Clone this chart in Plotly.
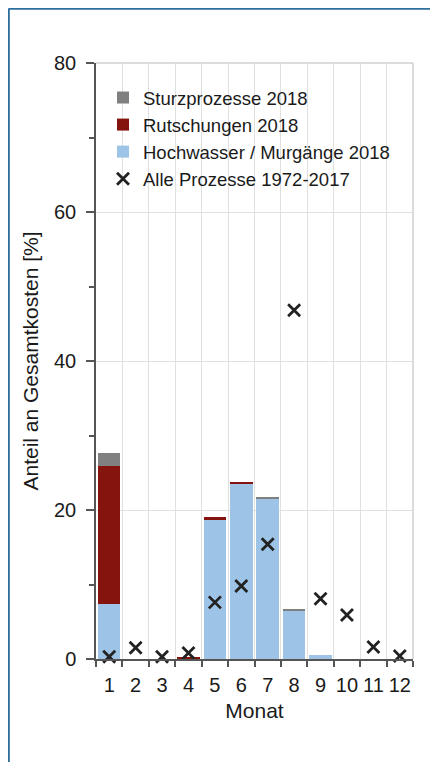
import plotly.graph_objects as go

months = [1, 2, 3, 4, 5, 6, 7, 8, 9, 10, 11, 12]
month_labels = ["1", "2", "3", "4", "5", "6", "7", "8", "9", "10", "11", "12"]
hochwasser_2018 = [7.4, 0, 0, 0, 18.75, 23.5, 21.6, 6.5, 0.55, 0, 0, 0]
rutschungen_2018 = [18.5, 0, 0, 0.3, 0.25, 0.2, 0, 0, 0, 0, 0, 0]
sturz_2018 = [1.75, 0, 0, 0, 0, 0, 0.1, 0.15, 0, 0, 0, 0]
alle_1972_2017 = [0.3, 1.5, 0.3, 0.8, 7.6, 9.8, 15.4, 46.8, 8.1, 5.9, 1.6, 0.4]

FONT = "Liberation Sans, Arial, sans-serif"
OFF = 8  # default page body margin
W, H = 438 - OFF, 762 - OFF
L, R, T, B = 96 - OFF, 25, 63 - OFF, 103
pw, ph = W - L - R, H - T - B

fig = go.Figure()
fig.add_trace(go.Bar(x=months, y=hochwasser_2018, name="Hochwasser / Murgänge 2018",
                     marker=dict(color="#9dc3e6", line=dict(width=0)), width=0.85,
                     legendrank=3, legendgroup="c"))
fig.add_trace(go.Bar(x=months, y=rutschungen_2018, name="Rutschungen 2018",
                     marker=dict(color="#85140f", line=dict(width=0)), width=0.85,
                     legendrank=2, legendgroup="b"))
fig.add_trace(go.Bar(x=months, y=sturz_2018, name="Sturzprozesse 2018",
                     marker=dict(color="#808080", line=dict(width=0)), width=0.85,
                     legendrank=1, legendgroup="a"))
fig.add_trace(go.Scatter(x=months, y=alle_1972_2017, mode="markers", name="Alle Prozesse 1972-2017",
                         marker=dict(symbol="x-thin", size=12, color="#222222",
                                     line=dict(width=2.8, color="#222222")),
                         legendrank=4, legendgroup="d", cliponaxis=False))

def px_x(p):
    # p in page pixels
    return (p - OFF - L) / pw

def px_y(p):
    return (H - B - (p - OFF)) / ph

shapes = [
    dict(type="line", xref="paper", yref="paper", x0=px_x(8.6), x1=px_x(W + 20), y0=px_y(8.6), y1=px_y(8.6),
         line=dict(color="#2c6e9c", width=2.4)),
    dict(type="line", xref="paper", yref="paper", x0=px_x(8.6), x1=px_x(8.6), y0=px_y(8.6), y1=px_y(H + 20),
         line=dict(color="#2c6e9c", width=2.4)),
    dict(type="line", xref="paper", yref="paper", x0=0, x1=1, y0=1, y1=1,
         line=dict(color="#d0d0d0", width=1.5), layer="below"),
    dict(type="line", xref="paper", yref="paper", x0=1, x1=1, y0=0, y1=1,
         line=dict(color="#d0d0d0", width=1.5), layer="below"),
]

fig.update_layout(
    width=W, height=H,
    margin=dict(l=L, r=R, t=T, b=B),
    paper_bgcolor="white", plot_bgcolor="white",
    barmode="stack",
    font=dict(family=FONT, size=18, color="#1a1a1a"),
    showlegend=True,
    legend=dict(x=px_x(103), y=px_y(79), xanchor="left", yanchor="top",
                bgcolor="rgba(0,0,0,0)", font=dict(size=18.5, family=FONT, color="#1a1a1a"),
                tracegroupgap=4, traceorder="normal", itemwidth=30),
    shapes=shapes,
    xaxis=dict(range=[0.5, 12.5], tickmode="array", tickvals=months, ticktext=month_labels,
               ticks="", showgrid=False, showline=True, linecolor="#555555", linewidth=1.5,
               zeroline=False, tickfont=dict(size=20, family=FONT, color="#1a1a1a"),
               ticklabelstandoff=7,
               minor=dict(tickmode="linear", tick0=0.5, dtick=1, ticks="outside", ticklen=6,
                          tickcolor="#555555", tickwidth=1.5, showgrid=True,
                          gridcolor="#e0e0e0", gridwidth=1.2),
               title=dict(text="Monat", font=dict(size=21, family=FONT, color="#1a1a1a"), standoff=9),
               fixedrange=True),
    yaxis=dict(range=[0, 80], tickmode="linear", tick0=0, dtick=20, ticks="outside", ticklen=8,
               tickcolor="#555555", tickwidth=1.5, showgrid=True, gridcolor="#e0e0e0", gridwidth=1.2,
               showline=True, linecolor="#555555", linewidth=1.5, zeroline=False,
               tickfont=dict(size=20, family=FONT, color="#1a1a1a"), ticklabelstandoff=6,
               minor=dict(tickmode="linear", tick0=10, dtick=20, ticks="outside", ticklen=5,
                          tickcolor="#555555", tickwidth=1.5, showgrid=False),
               title=dict(text="Anteil an Gesamtkosten [%]", font=dict(size=21, family=FONT, color="#1a1a1a"),
                          standoff=10),
               fixedrange=True),
)

fig.write_html("out.html")
